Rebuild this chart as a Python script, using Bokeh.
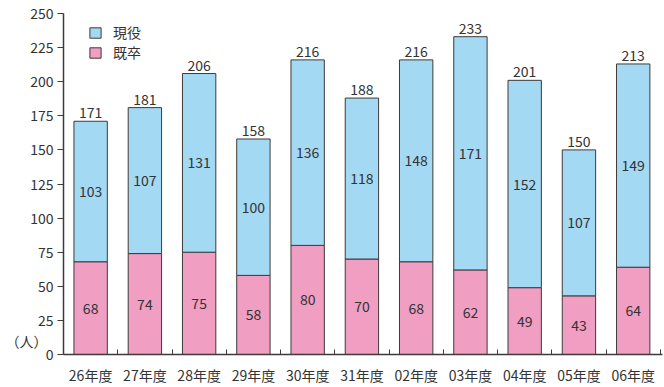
from bokeh.plotting import figure
from bokeh.models import ColumnDataSource, FixedTicker, Legend, LegendItem, Range1d, LinearAxis
from bokeh.embed import file_html
from bokeh.resources import INLINE
from bokeh.core.properties import value

categories = ["26年度", "27年度", "28年度", "29年度", "30年度", "31年度",
              "02年度", "03年度", "04年度", "05年度", "06年度"]
genneki = [103, 107, 131, 100, 136, 118, 148, 171, 152, 107, 149]  # 現役
kisotsu = [68, 74, 75, 58, 80, 70, 68, 62, 49, 43, 64]             # 既卒
y_ticks = [0, 25, 50, 75, 100, 125, 150, 175, 200, 225, 250]
unit_label = "（人）"
unit_label_at = 10

FONT = "Noto Sans CJK JP"
TXT = "#333333"
BLUE = "#a3d9f3"
PINK = "#f09ec2"
EDGE = "#3f3a38"

xs = list(range(len(categories)))
totals = [g + k for g, k in zip(genneki, kisotsu)]
src = ColumnDataSource(dict(
    x=xs, kisotsu=kisotsu, total=totals,
    k_mid=[k / 2 for k in kisotsu],
    g_mid=[k + g / 2 for g, k in zip(genneki, kisotsu)],
    k_lbl=[str(v) for v in kisotsu],
    g_lbl=[str(v) for v in genneki],
    t_lbl=[str(v) for v in totals],
))

p = figure(width=664, height=387, output_backend="svg", toolbar_location=None, title=None,
           x_range=Range1d(-0.5, len(categories) - 0.5 + 0.04), y_range=Range1d(0, 250),
           min_border_left=63, min_border_right=2, min_border_top=13, min_border_bottom=32)
p.outline_line_color = None
p.xgrid.visible = False
p.ygrid.visible = False
p.background_fill_color = "white"

bw = 0.615
r_k = p.vbar(x="x", width=bw, bottom=0, top="kisotsu", source=src,
             fill_color=PINK, line_color=EDGE, line_width=1)
r_g = p.vbar(x="x", width=bw, bottom="kisotsu", top="total", source=src,
             fill_color=BLUE, line_color=EDGE, line_width=1)

common = dict(text_font=value(FONT), text_font_size="14px", text_color=TXT,
              text_align="center", source=src)
p.text(x="x", y="k_mid", text="k_lbl", text_baseline="middle", **common)
p.text(x="x", y="g_mid", text="g_lbl", text_baseline="middle", **common)
p.text(x="x", y="total", text="t_lbl", text_baseline="bottom", y_offset=-3, **common)

# axes
xa = p.xaxis[0]
xa.ticker = FixedTicker(ticks=xs, minor_ticks=[i + 0.5 for i in xs])
xa.major_label_overrides = {i: c for i, c in enumerate(categories)}
xa.major_tick_in = 0
xa.major_tick_out = 0
xa.minor_tick_in = 5
xa.minor_tick_out = 0
xa.minor_tick_line_color = EDGE
xa.axis_line_color = EDGE
xa.axis_line_width = 1.5
xa.major_label_standoff = 10
xa.major_label_text_font = FONT
xa.major_label_text_font_size = "14px"
xa.major_label_text_color = TXT

ya = p.yaxis[0]
ya.ticker = FixedTicker(ticks=y_ticks)
ya.minor_tick_line_color = None
ya.major_tick_in = 0
ya.major_tick_out = 6
ya.major_tick_line_color = EDGE
ya.axis_line_color = EDGE
ya.axis_line_width = 1.5
ya.major_label_standoff = 4
ya.major_label_text_font = FONT
ya.major_label_text_font_size = "14px"
ya.major_label_text_color = TXT

# unit label as an outer axis on the left
ua = LinearAxis(ticker=FixedTicker(ticks=[unit_label_at]),
                major_label_overrides={unit_label_at: unit_label},
                axis_line_color=None, major_tick_line_color=None, minor_tick_line_color=None,
                major_tick_in=0, major_tick_out=0, minor_tick_in=0, minor_tick_out=0,
                major_label_standoff=-20, major_label_text_font=FONT,
                major_label_text_font_size="14px", major_label_text_color=TXT)
p.add_layout(ua, "left")

legend = Legend(items=[LegendItem(label="現役", renderers=[r_g]),
                       LegendItem(label="既卒", renderers=[r_k])],
                location=(25, 292), padding=0, margin=0, spacing=-4,
                glyph_width=14, glyph_height=13, label_height=18, label_standoff=11,
                label_text_font=FONT, label_text_font_size="14px", label_text_color=TXT,
                border_line_color=None, background_fill_alpha=0)
p.add_layout(legend)

open("out.html", "w").write(file_html(p, INLINE))
